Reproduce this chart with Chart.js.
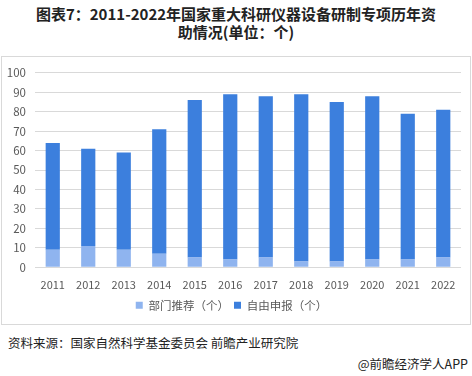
<!DOCTYPE html>
<html>
<head>
<meta charset="utf-8">
<script src="https://cdn.jsdelivr.net/npm/chart.js@4/dist/chart.umd.min.js"></script>
<style>
  body { margin: 0; background: #fff; width: 472px; height: 376px; position: relative; overflow: hidden; font-family: "Noto Sans CJK SC", sans-serif; }
  #title { position: absolute; top: 5px; left: 0; width: 472px; text-align: center; font-size: 15px; font-weight: bold; color: #222; line-height: 18px; }
  #frame { position: absolute; left: 1px; top: 56px; width: 468px; height: 267px; border: 1px solid #d9d9d9; }
  #source { position: absolute; left: 8px; top: 333px; font-size: 12.5px; color: #222; }
  #brand { position: absolute; right: 4px; top: 354px; font-size: 12.5px; color: #222; }
</style>
</head>
<body>
<div id="title">图表7：2011-2022年国家重大科研仪器设备研制专项历年资<br>助情况(单位：个)</div>
<div id="frame"><canvas id="barChart" width="468" height="267"></canvas></div>
<div id="source">资料来源：国家自然科学基金委员会 前瞻产业研究院</div>
<div id="brand">@前瞻经济学人APP</div>
<script>
const CHART = document.getElementById('barChart')
const years = ["2011", "2012", "2013", "2014", "2015", "2016", "2017", "2018", "2019", "2020", "2021", "2022"]
const recommended = [9, 11, 9, 7, 5, 4, 5, 3, 3, 4, 4, 5]
const selfApplied = [55, 50, 50, 64, 81, 85, 83, 86, 82, 84, 75, 76]

const COLORS = {
    light: "#8fb4ef",
    dark: "#3c7fdd",
};
const FONT = "'Noto Sans CJK SC', sans-serif";

new Chart(CHART, {
    type: 'bar',
    data: {
        labels: years,
        datasets: [
            {
                label: '部门推荐（个）',
                data: recommended,
                backgroundColor: COLORS.light,
            },
            {
                label: '自由申报（个）',
                data: selfApplied,
                backgroundColor: COLORS.dark,
            }
        ]
    },
    options: {
        responsive: false,
        animation: false,
        layout: { padding: { left: 0, right: 9, top: 14, bottom: 3 } },
        datasets: { bar: { barPercentage: 0.4, categoryPercentage: 1 } },
        scales: {
            x: {
                stacked: true,
                grid: { display: false },
                border: { display: false },
                ticks: { color: '#595959', font: { family: FONT, size: 11 }, padding: 3 },
            },
            y: {
                stacked: true,
                min: 0,
                max: 100,
                ticks: { stepSize: 10, color: '#595959', font: { family: FONT, size: 11.5 }, padding: 9 },
                grid: { color: '#d9d9d9', drawTicks: false },
                border: { display: false },
                afterFit(scale) { scale.width = 33 },
            }
        },
        plugins: {
            legend: {
                position: 'bottom',
                labels: { boxWidth: 7, boxHeight: 7, color: '#595959', font: { family: FONT, size: 11.5 }, padding: 5 },
            },
            tooltip: { enabled: false },
        }
    },
})
</script>
</body>
</html>
